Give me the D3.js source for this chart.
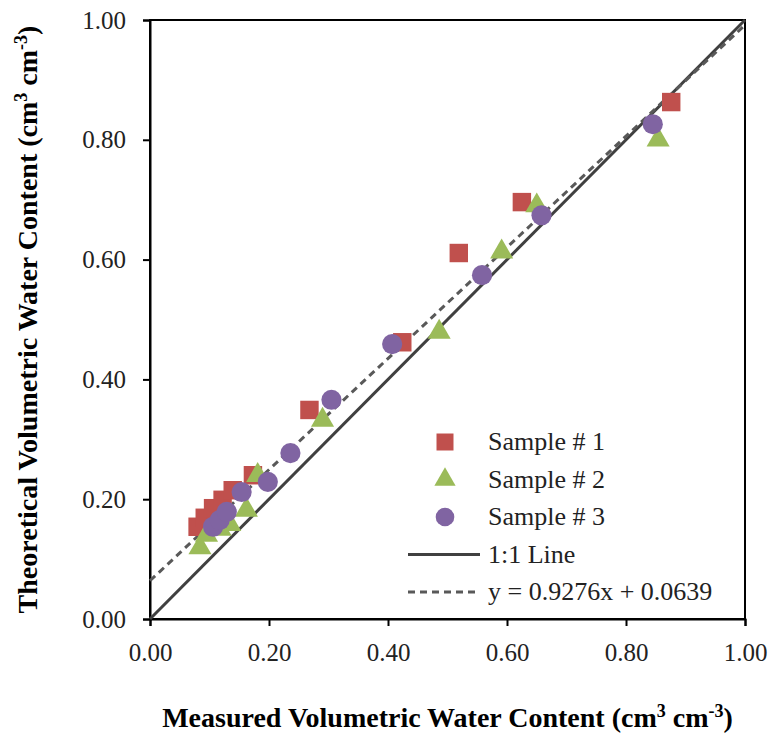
<!DOCTYPE html>
<html>
<head>
<meta charset="utf-8">
<script src="https://cdn.jsdelivr.net/npm/d3@7"></script>
<style>
  body { margin: 0; background: #fff; }
  text { font-family: "Liberation Serif", "Times New Roman", serif; }
</style>
</head>
<body>
<svg id="chart" width="774" height="739"></svg>
<script>
// measured vs theoretical values
const sample1X = [0.080, 0.092, 0.106, 0.122, 0.139, 0.173, 0.268, 0.424, 0.519, 0.625, 0.876];
const sample1Y = [0.154, 0.169, 0.185, 0.199, 0.215, 0.240, 0.349, 0.462, 0.611, 0.696, 0.863];
const sample2X = [0.084, 0.095, 0.118, 0.134, 0.162, 0.181, 0.290, 0.486, 0.591, 0.650, 0.854];
const sample2Y = [0.119, 0.140, 0.150, 0.158, 0.182, 0.240, 0.332, 0.479, 0.613, 0.690, 0.800];
const sample3X = [0.106, 0.117, 0.129, 0.154, 0.198, 0.236, 0.305, 0.407, 0.558, 0.658, 0.845];
const sample3Y = [0.154, 0.165, 0.179, 0.212, 0.229, 0.277, 0.366, 0.459, 0.574, 0.674, 0.826];
const tickValues = [0, 0.2, 0.4, 0.6, 0.8, 1.0];
const fitSlope = 0.9276;
const fitIntercept = 0.0639;
const legendLabels = ["Sample # 1", "Sample # 2", "Sample # 3", "1:1 Line", "y = 0.9276x + 0.0639"];

const margin = { left: 150, right: 29, top: 20, bottom: 120 };
const width = 774 - margin.left - margin.right;
const height = 739 - margin.top - margin.bottom;

const svg = d3.select("#chart");
const g = svg.append("g").attr("transform", `translate(${margin.left},${margin.top})`);

const x = d3.scaleLinear().domain([0, 1]).range([0, width]);
const y = d3.scaleLinear().domain([0, 1]).range([height, 0]);

// frame
g.append("rect")
    .attr("width", width)
    .attr("height", height)
    .attr("fill", "none")
    .attr("stroke", "#000")
    .attr("stroke-width", 2);

const xAxis = g.append("g")
    .attr("transform", `translate(0,${height})`)
    .call(d3.axisBottom(x).tickValues(tickValues).tickFormat(d3.format(".2f")).tickSizeOuter(0).tickSize(7).tickPadding(17));
const yAxis = g.append("g")
    .call(d3.axisLeft(y).tickValues(tickValues).tickFormat(d3.format(".2f")).tickSizeOuter(0).tickSize(7).tickPadding(17));

[xAxis, yAxis].forEach(a => {
    a.select(".domain").attr("stroke-width", 2);
    a.selectAll(".tick line").attr("stroke-width", 2);
    a.selectAll(".tick text")
        .attr("font-size", 25)
        .attr("fill", "#222")
        .style("font-family", "'Liberation Serif', serif");
});

// reference lines
const line = d3.line().x(d => x(d[0])).y(d => y(d[1]));
g.append("path")
    .datum([[0, 0], [1, 1]])
    .attr("d", line)
    .attr("stroke", "#404040")
    .attr("stroke-width", 3)
    .attr("fill", "none");
g.append("path")
    .datum([[0, fitIntercept], [1, fitSlope + fitIntercept]])
    .attr("d", line)
    .attr("stroke", "#595959")
    .attr("stroke-width", 3)
    .attr("stroke-dasharray", "7,5")
    .attr("fill", "none");

const series = [
    { xs: sample1X, ys: sample1Y, color: "#C0504D", symbol: d3.symbolSquare, size: 340 },
    { xs: sample2X, ys: sample2Y, color: "#9BBB59", symbol: d3.symbolTriangle, size: 230 },
    { xs: sample3X, ys: sample3Y, color: "#8064A2", symbol: d3.symbolCircle, size: 320 }
];

series.forEach(s => {
    g.append("g")
        .selectAll("path")
        .data(s.xs.map((v, i) => [v, s.ys[i]]))
        .join("path")
        .attr("d", d3.symbol().type(s.symbol).size(s.size))
        .attr("transform", d => `translate(${x(d[0])},${y(d[1])})`)
        .attr("fill", s.color);
});

// legend
const legend = g.append("g").attr("transform", "translate(258,422)");
const rowGap = 37.5;
legendLabels.forEach((lab, i) => {
    const row = legend.append("g").attr("transform", `translate(0,${i * rowGap})`);
    if (i < 3) {
        const s = series[i];
        row.append("path")
            .attr("d", d3.symbol().type(s.symbol).size(s.size * 0.85))
            .attr("transform", "translate(37,0)")
            .attr("fill", s.color);
    } else {
        row.append("line")
            .attr("x1", 0).attr("x2", 72)
            .attr("stroke", i === 3 ? "#404040" : "#595959")
            .attr("stroke-width", 3)
            .attr("stroke-dasharray", i === 3 ? null : "7,5");
    }
    row.append("text")
        .attr("x", 80)
        .attr("y", 8)
        .attr("font-size", 26)
        .attr("fill", "#222")
        .text(lab);
});

// axis titles
function addTitle(sel, label) {
    sel.append("tspan").text(label + " (cm");
    sel.append("tspan").attr("dy", -10).attr("font-size", 18).text("3");
    sel.append("tspan").attr("dy", 10).text(" cm");
    sel.append("tspan").attr("dy", -10).attr("font-size", 18).text("-3");
    sel.append("tspan").attr("dy", 10).text(")");
}

const xTitle = svg.append("text")
    .attr("x", margin.left + width / 2)
    .attr("y", 727)
    .attr("text-anchor", "middle")
    .attr("font-size", 28)
    .attr("font-weight", "bold");
addTitle(xTitle, "Measured Volumetric Water Content");

const yTitle = svg.append("text")
    .attr("transform", `translate(37,${margin.top + height / 2}) rotate(-90)`)
    .attr("text-anchor", "middle")
    .attr("font-size", 28)
    .attr("font-weight", "bold");
addTitle(yTitle, "Theoretical Volumetric Water Content");
</script>
</body>
</html>
